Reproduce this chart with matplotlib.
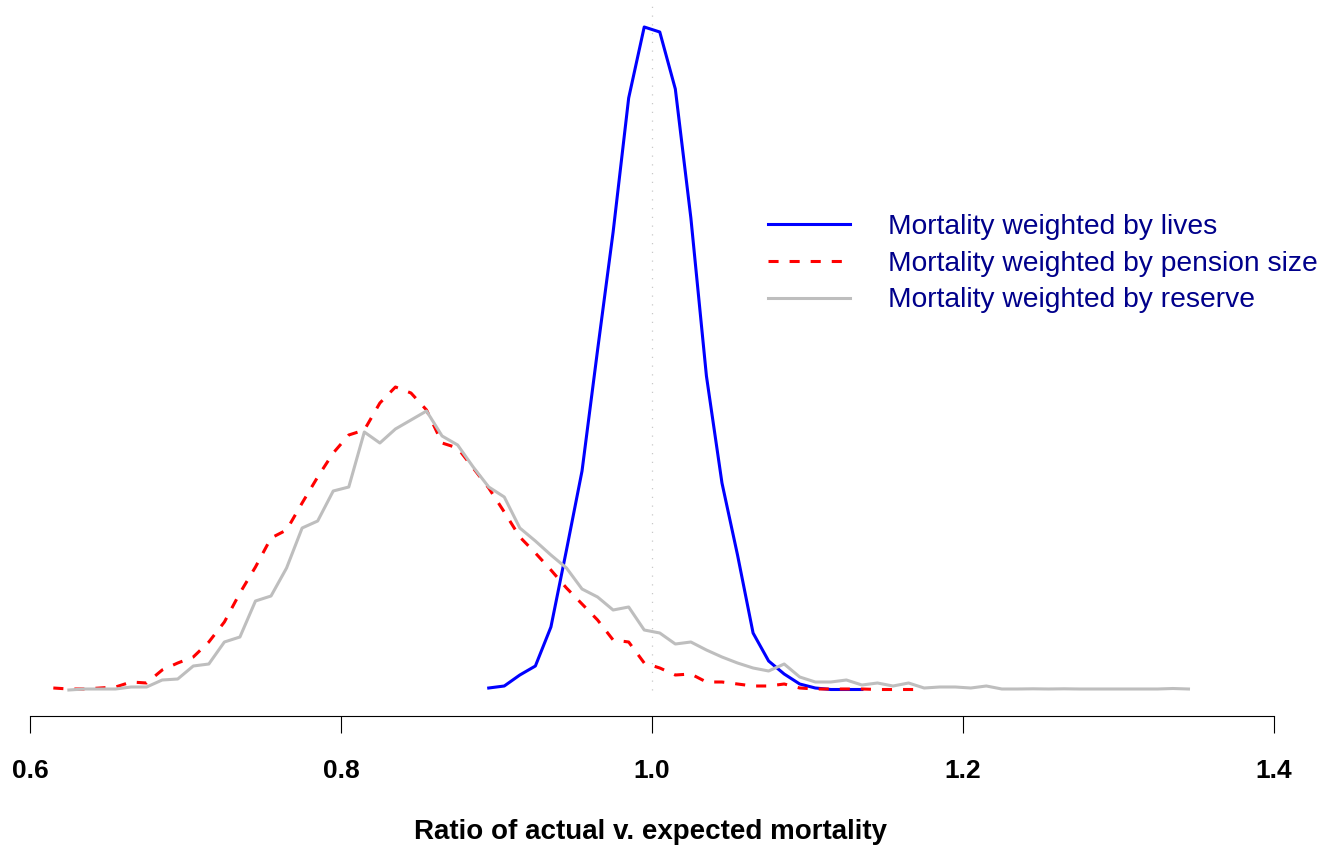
import numpy as np
import matplotlib
matplotlib.use("Agg")
import matplotlib.pyplot as plt

plt.rcParams['font.family'] = ['Liberation Sans', 'DejaVu Sans']

# density of A/E ratio, bins of width 0.01 (centres at .xx5)
lives_start = 0.895
lives = [2, 4, 15, 24, 63, 140, 219, 340, 458, 592, 663, 658, 601, 472, 314,
         207, 135, 57, 29, 16, 6, 2, 0.5, 0.5, 0.5]

pension_start = 0.615
pension = [2, 1, 1, 2, 3, 8, 7, 20, 27, 33, 48, 68, 97, 123, 152, 160, 187,
           213, 237, 255, 260, 287, 303, 297, 280, 247, 242, 222, 202, 178,
           153, 137, 120, 102, 86, 70, 50, 48, 27, 22, 15, 16, 8, 8, 6, 4, 4,
           6, 2, 1, 1, 1, 1, 0.5, 0.5, 0.5, 0.5]

reserve_start = 0.625
reserve = [0, 1, 1, 1, 3, 3, 10, 11, 24, 26, 48, 53, 89, 94, 122, 162, 169,
           199, 203, 258, 247, 261, 270, 279, 254, 245, 223, 203, 193, 162,
           149, 135, 122, 101, 93, 80, 83, 60, 57, 46, 48, 40, 33, 27, 22, 19,
           26, 13, 8, 8, 10, 5, 7, 4, 7, 2, 3, 3, 2, 4, 1, 1, 1.2, 1, 1.2, 1,
           1, 1, 1, 1, 1, 1.5, 1]

labels = ['Mortality weighted by lives',
          'Mortality weighted by pension size',
          'Mortality weighted by reserve']
ticks = [0.6, 0.8, 1.0, 1.2, 1.4]
tick_labels = ['0.6', '0.8', '1.0', '1.2', '1.4']


def grid(start, vals):
    return np.round(start + 0.01 * np.arange(len(vals)), 3)


fig = plt.figure(figsize=(13.3, 8.48), dpi=100)
ax = fig.add_axes([0, (848 - 716) / 848, 1, 716 / 848])
ax.set_xlim(0.6 - 30 / 1555, 0.6 + 1300 / 1555)
ax.set_ylim(-26, 690)

ax.vlines(1.0, 0, 685, color='#c8c8c8', lw=0.9, linestyle=(0, (1, 6)))

l1, = ax.plot(grid(lives_start, lives), lives, color='#0000ff', lw=2.2)
l2, = ax.plot(grid(pension_start, pension), pension, color='#ff0000', lw=2.2,
              dashes=(3.3, 3.6))
l3, = ax.plot(grid(reserve_start, reserve), reserve, color='#bebebe', lw=2.2)

for s in ['top', 'left', 'right']:
    ax.spines[s].set_visible(False)
ax.spines['bottom'].set_bounds(0.6, 1.4)
ax.spines['bottom'].set_linewidth(0.8)
ax.set_yticks([])
ax.set_xticks(ticks)
ax.set_xticklabels(tick_labels, fontsize=19, fontweight='bold')
ax.tick_params(axis='x', length=12.5, width=0.8, pad=18.5)

leg = ax.legend([l1, l2, l3], labels, loc='upper left', frameon=False,
                bbox_to_anchor=(768 / 1330, 1 - 214 / 716), fontsize=20.3,
                handlelength=2.9, handletextpad=1.35, labelspacing=0.38,
                borderpad=0, borderaxespad=0)
for t in leg.get_texts():
    t.set_color('#00008b')

fig.text(651 / 1330, 1 - 832 / 848, 'Ratio of actual v. expected mortality',
         ha='center', va='center', fontsize=20, fontweight='bold')

fig.savefig('out.png', dpi=100)
